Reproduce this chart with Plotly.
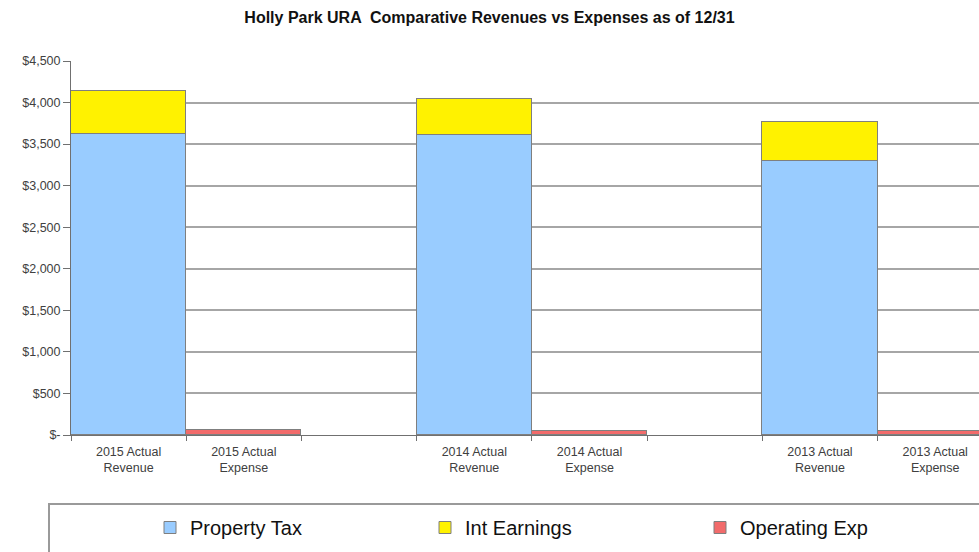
"""Holly Park URA revenues vs expenses - stacked bar chart."""
import plotly.graph_objects as go

CATEGORIES = [
    "2015 Actual<br>Revenue", "2015 Actual<br>Expense", " ",
    "2014 Actual<br>Revenue", "2014 Actual<br>Expense", "  ",
    "2013 Actual<br>Revenue", "2013 Actual<br>Expense", "   ",
]
PROPERTY_TAX = [3625, None, None, 3610, None, None, 3300, None, None]
INT_EARNINGS = [520, None, None, 435, None, None, 470, None, None]
OPERATING_EXP = [None, 55, None, None, 52, None, None, 50, None]

Y_TICKS = [0, 500, 1000, 1500, 2000, 2500, 3000, 3500, 4000, 4500]
Y_TICK_TEXT = ["$-", "$500", "$1,000", "$1,500", "$2,000", "$2,500",
               "$3,000", "$3,500", "$4,000", "$4,500"]

COLORS = {
    "tax": "#99CCFF",
    "int": "#FFF200",
    "opex": "#F26B6B",
    "edge": "#7F7F7F",
    "grid": "#A6A6A6",
    "text": "#404040",
}

W, H = 979, 552
TOP, BOTTOM = 61, 435          # pixel rows of $4,500 and $-
PLOT_H = BOTTOM - TOP
FONT = "Liberation Sans, Arial, sans-serif"

fig = go.Figure()
for name, vals, col in [
    ("Property Tax", PROPERTY_TAX, COLORS["tax"]),
    ("Int Earnings", INT_EARNINGS, COLORS["int"]),
    ("Operating Exp", OPERATING_EXP, COLORS["opex"]),
]:
    fig.add_trace(go.Bar(
        x=CATEGORIES, y=vals, name=name,
        marker=dict(color=col, line=dict(color=COLORS["edge"], width=1)),
        hoverinfo="skip",
    ))

# legend frame runs off the right edge as in the source image
fig.add_shape(
    type="rect", xref="paper", yref="paper",
    x0=49 / W, x1=1.05, y0=-(570 - BOTTOM) / PLOT_H, y1=-(504 - BOTTOM) / PLOT_H,
    line=dict(color="#9A9A9A", width=2), fillcolor="white", layer="below",
)

fig.update_layout(
    width=W, height=H,
    barmode="stack", bargap=0,
    plot_bgcolor="white", paper_bgcolor="white",
    margin=dict(l=0, r=0, t=TOP, b=H - BOTTOM, autoexpand=False),
    font=dict(family=FONT, color=COLORS["text"], size=12),
    title=dict(
        text="<b>Holly Park URA  Comparative Revenues vs Expenses as of 12/31</b>",
        x=0.5, xanchor="center", y=1 - 17 / H, yanchor="middle",
        font=dict(size=16, color="#111111", family=FONT),
    ),
    xaxis=dict(
        domain=[71 / W, 1],
        type="category", categoryorder="array", categoryarray=CATEGORIES,
        range=[-0.5, 7.38],
        showgrid=False, showline=True, linecolor="#707070", linewidth=1,
        ticks="outside", tickson="boundaries", ticklen=5, tickcolor="#707070",
        ticklabelstandoff=5,
        tickfont=dict(size=12.5, color=COLORS["text"]),
    ),
    yaxis=dict(
        range=[0, 4500],
        tickvals=Y_TICKS, ticktext=Y_TICK_TEXT,
        showgrid=True, gridcolor=COLORS["grid"], gridwidth=2,
        showline=True, linecolor="#707070", linewidth=1,
        ticks="outside", ticklen=7, tickcolor="#707070",
        tickfont=dict(size=12.5, color=COLORS["text"]),
        zeroline=False,
    ),
    showlegend=True,
    legend=dict(
        orientation="h", x=150 / W, xanchor="left",
        y=-(508 - BOTTOM) / PLOT_H, yanchor="top",
        entrywidth=230, entrywidthmode="pixels",
        font=dict(size=20, color="#111111", family=FONT),
        bgcolor="rgba(0,0,0,0)", traceorder="normal",
    ),
)

fig.write_html(
    "out.html",
    config={"displayModeBar": False},
    post_script="document.body.style.margin='0';",
)
